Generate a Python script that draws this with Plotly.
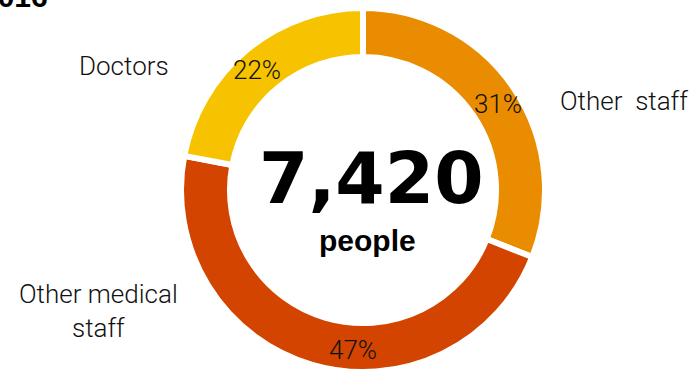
import math
import plotly.graph_objects as go

categories = ["Other staff", "Other medical staff", "Doctors"]
values = [31, 47, 22]
colors = ["#EA8C00", "#D24400", "#F7C300"]
total_people = "7,420"
total_unit = "people"
title_text = "2016"

W, H = 693, 372
cx, cy, R = 363, 190, 182
label_r = 160
label_angle_shift = [1.5, -12.5, -2.0]  # style: where each % label sits in its slice

fig = go.Figure(go.Pie(
    labels=categories,
    values=values,
    sort=False,
    direction="clockwise",
    rotation=0,
    hole=0.731,
    marker=dict(colors=colors, line=dict(color="white", width=6)),
    textinfo="none",
    domain=dict(x=[(cx - R) / W, (cx + R) / W],
                y=[max(0, (H - cy - R) / H), min(1, (H - cy + R) / H)]),
    showlegend=False,
    hoverinfo="label+percent",
))

light = dict(family="Roboto", size=26, color="#111111", weight=300)


def px(x):
    return x / W


def py(y):
    return 1 - y / H


anns = [
    dict(text=total_people, x=px(371), y=py(178), font=dict(family="DejaVu Sans", size=71, color="black", weight="bold")),
    dict(text=total_unit, x=px(367), y=py(240), font=dict(family="Liberation Sans", size=30, color="black", weight="bold")),
    dict(text=categories[2], x=px(124), y=py(66), font=light),
    dict(text=categories[0].replace(" ", "  "), x=px(624), y=py(101), font=light),
    dict(text="Other medical<br>staff", x=px(98), y=py(311), font=light, align="center"),
    dict(text=title_text, x=px(50), y=py(-4), xanchor="right", font=dict(family="Liberation Sans", size=30, color="black", weight="bold")),
]

total = sum(values)
start = 0.0
for v, shift in zip(values, label_angle_shift):
    mid = start + v / total * 180.0 + shift
    start += v / total * 360.0
    a = math.radians(mid)
    x = cx + label_r * math.sin(a)
    y = cy - label_r * math.cos(a)
    anns.append(dict(text=f"{round(v / total * 100)}%", x=px(x), y=py(y),
                     font=dict(family="Roboto", size=26, color="#111111", weight=300)))

for a in anns:
    a.setdefault("xanchor", "center")
    a.update(xref="paper", yref="paper", yanchor="middle", showarrow=False)

fig.update_layout(
    width=W, height=H,
    margin=dict(l=0, r=0, t=0, b=0),
    paper_bgcolor="white",
    plot_bgcolor="white",
    annotations=anns,
)
fig.write_html("out.html")
